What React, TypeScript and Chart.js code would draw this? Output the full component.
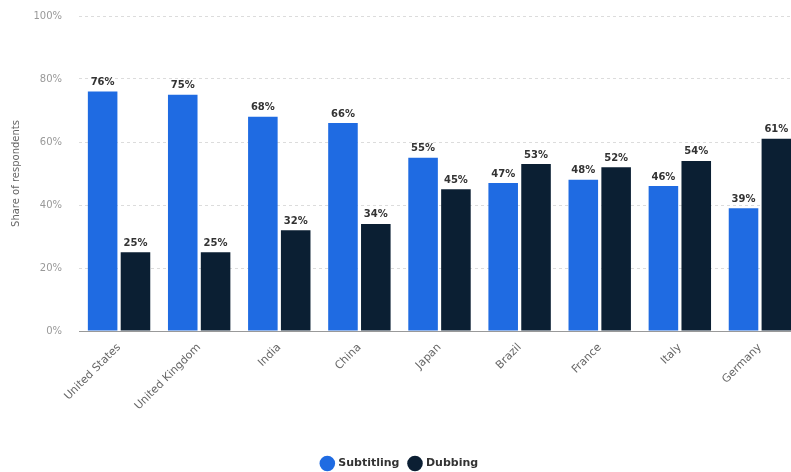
import React, { useEffect, useRef } from "react";
import { Chart, registerables } from "chart.js";

Chart.register(...registerables);

const categories = ["United States", "United Kingdom", "India", "China", "Japan", "Brazil", "France", "Italy", "Germany"];
const subtitling = [76, 75, 68, 66, 55, 47, 48, 46, 39];
const dubbing = [25, 25, 32, 34, 45, 53, 52, 54, 61];
const seriesNames = ["Subtitling", "Dubbing"];
const yTicks = [0, 20, 40, 60, 80, 100];
const yTitle = "Share of respondents";

const FONT = "'DejaVu Sans', 'Open Sans', sans-serif";

const valueLabels = {
  id: "valueLabels",
  afterDatasetsDraw(chart: any) {
    const ctx = chart.ctx;
    ctx.save();
    ctx.font = `bold 10px ${FONT}`;
    ctx.fillStyle = "#333333";
    ctx.textAlign = "center";
    ctx.textBaseline = "bottom";
    chart.data.datasets.forEach((ds: any, i: number) => {
      const meta = chart.getDatasetMeta(i);
      meta.data.forEach((el: any, j: number) => {
        ctx.fillText(ds.data[j] + "%", el.x, el.y - 4);
      });
    });
    ctx.restore();
  },
};

export default function App() {
  const ref = useRef<HTMLCanvasElement | null>(null);
  useEffect(() => {
    if (!ref.current) return;
    const chart = new Chart(ref.current, {
      type: "bar",
      data: {
        labels: categories,
        datasets: [
          { label: seriesNames[0], data: subtitling, backgroundColor: "#1f6be2", categoryPercentage: 0.82, barPercentage: 0.9 },
          { label: seriesNames[1], data: dubbing, backgroundColor: "#0b1f33", categoryPercentage: 0.82, barPercentage: 0.9 },
        ],
      },
      options: {
        animation: false,
        responsive: false,
        maintainAspectRatio: false,
        layout: { padding: { top: 16, right: 12, left: 0, bottom: 0 } },
        plugins: {
          legend: {
            position: "bottom",
            labels: {
              usePointStyle: true,
              pointStyle: "circle",
              boxWidth: 11,
              boxHeight: 11,
              padding: 10,
              color: "#333333",
              font: { family: FONT, size: 11, weight: "bold" },
            },
          },
          tooltip: { enabled: false },
        },
        scales: {
          x: {
            grid: { display: false, drawTicks: false },
            border: { display: true, color: "#999999", width: 1 },
            ticks: {
              minRotation: 45,
              maxRotation: 45,
              padding: 10,
              color: "#666666",
              font: { family: FONT, size: 11 },
            },
            afterFit: (s: any) => { s.height = 117; },
          },
          y: {
            min: 0,
            max: 100,
            afterBuildTicks: (s: any) => { s.ticks = yTicks.map((v) => ({ value: v })); },
            grid: { color: "#dcdcdc", drawTicks: true, tickLength: 14, tickColor: "rgba(0,0,0,0)", lineWidth: 1 },
            border: { display: false, dash: [3, 3] },
            ticks: {
              padding: 3,
              color: "#999999",
              font: { family: FONT, size: 10 },
              callback: (v: any) => v + "%",
            },
            title: {
              display: true,
              text: yTitle,
              color: "#666666",
              font: { family: FONT, size: 10 },
              padding: { top: 10, bottom: 0 },
            },
            afterFit: (s: any) => { s.width = 79; },
          },
        },
      },
      plugins: [valueLabels],
    });
    return () => chart.destroy();
  }, []);
  return (
    <div style={{ position: "fixed", left: 0, top: 0, width: 791, height: 472, overflow: "hidden", background: "#fff" }}>
      <canvas ref={ref} width={812} height={479} style={{ width: 812, height: 479, display: "block" }} />
    </div>
  );
}
